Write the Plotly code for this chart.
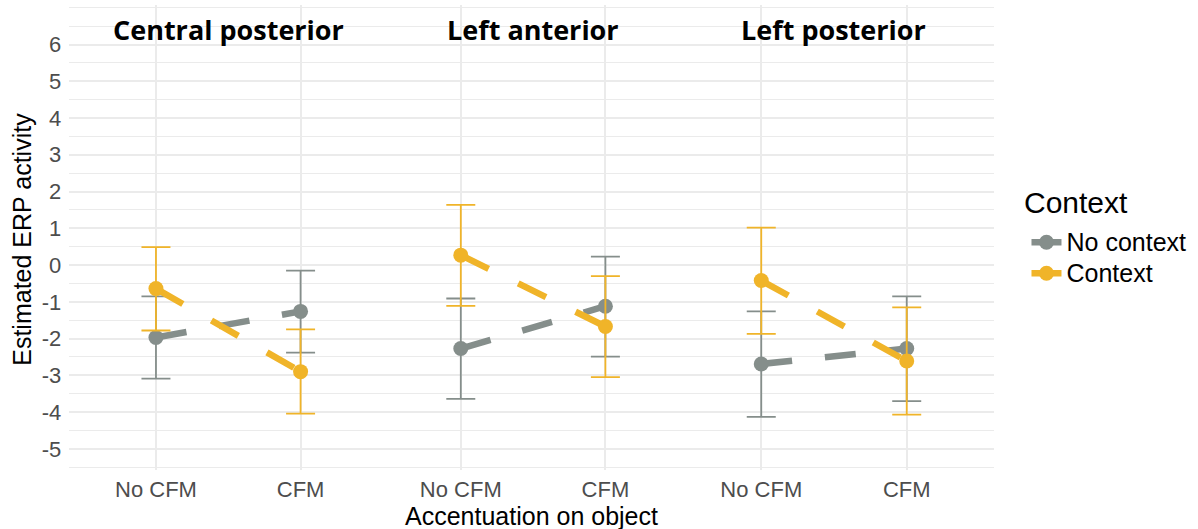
import plotly.graph_objects as go

# Facets, x categories and groups
regions = ["Central posterior", "Left anterior", "Left posterior"]
accentuation = ["No CFM", "CFM"]
groups = ["No context", "Context"]

# Estimated ERP activity per region: [No CFM, CFM]
no_context_est = [[-1.97, -1.26], [-2.27, -1.12], [-2.69, -2.27]]
no_context_lo = [[-3.09, -2.38], [-3.64, -2.49], [-4.13, -3.70]]
no_context_hi = [[-0.85, -0.15], [-0.91, 0.23], [-1.26, -0.85]]

context_est = [[-0.64, -2.90], [0.27, -1.67], [-0.42, -2.61]]
context_lo = [[-1.78, -4.04], [-1.11, -3.05], [-1.87, -4.07]]
context_hi = [[0.49, -1.75], [1.64, -0.30], [1.02, -1.15]]

y_ticks = [-5, -4, -3, -2, -1, 0, 1, 2, 3, 4, 5, 6]
y_tick_labels = ["-5", "-4", "-3", "-2", "-1", "0", "1", "2", "3", "4", "5", "6"]
y_minor = [-5.5, -4.5, -3.5, -2.5, -1.5, -0.5, 0.5, 1.5, 2.5, 3.5, 4.5, 5.5, 6.5, 7]

colors = {"No context": "#858E8B", "Context": "#F0B429"}
series = {
    "No context": (no_context_est, no_context_lo, no_context_hi),
    "Context": (context_est, context_lo, context_hi),
}

W, H = 1198, 529
L_PX, R_PX = 69.0, 994.5
T_PX, B_PX = 5.0, 470.5
# facet panel extents in pixels (panels slightly overlap)
panel_px = [(69.2, 387.5), (374.2, 692.5), (674.3, 994.5)]
span_x = R_PX - L_PX
span_y = B_PX - T_PX


def dom(a, b):
    return [max(0.0, (a - L_PX) / span_x), min(1.0, (b - L_PX) / span_x)]


def px(p):
    # pixel column -> paper x
    return (p - L_PX) / span_x


def py(p):
    # pixel row -> paper y
    return 1 - (p - T_PX) / span_y


SANS = "Liberation Sans, Arial, Helvetica, sans-serif"
grid = "#EBEBEB"
tick_font = dict(family=SANS, size=22, color="#4D4D4D")

fig = go.Figure()

for i, region in enumerate(regions):
    xa = "x" if i == 0 else f"x{i+1}"
    ya = "y" if i == 0 else f"y{i+1}"
    for g in groups:
        est, lo, hi = series[g]
        e, l, h = est[i], lo[i], hi[i]
        fig.add_trace(go.Scatter(
            x=accentuation, y=e, xaxis=xa, yaxis=ya,
            mode="lines+markers",
            name=f'<span style="font-size:25px">{g}</span>',
            legendgroup=g, showlegend=(i == 0),
            line=dict(color=colors[g], width=6.5, dash="31px,33px"),
            marker=dict(color=colors[g], size=15),
            error_y=dict(type="data", symmetric=False,
                         array=[hh - ee for hh, ee in zip(h, e)],
                         arrayminus=[ee - ll for ee, ll in zip(e, l)],
                         color=colors[g], thickness=1.8, width=14.5),
        ))

    xkey = "xaxis" if i == 0 else f"xaxis{i+1}"
    ykey = "yaxis" if i == 0 else f"yaxis{i+1}"
    fig.update_layout({
        xkey: dict(domain=dom(*panel_px[i]), anchor=ya, type="category",
                   categoryorder="array", categoryarray=accentuation,
                   range=[-0.6, 1.6], showgrid=True, gridcolor=grid, gridwidth=2,
                   zeroline=False, showline=False, ticks="",
                   tickfont=tick_font, ticklabelstandoff=4, fixedrange=True),
        ykey: dict(domain=[0, 1], anchor=xa, range=[-5.575, 7.075],
                   tickmode="array", tickvals=y_ticks, ticktext=y_tick_labels,
                   showticklabels=(i == 0), showgrid=True, gridcolor=grid,
                   gridwidth=2, zeroline=False, showline=False, ticks="",
                   tickfont=tick_font, ticklabelstandoff=7,
                   minor=dict(tickmode="array", tickvals=y_minor, showgrid=True,
                              gridcolor=grid, gridwidth=1),
                   fixedrange=True),
    })
    cx = px(sum(panel_px[i]) / 2)
    fig.add_annotation(text=f"<b>{region}</b>", x=cx, y=py(30),
                       xref="paper", yref="paper", xanchor="center", yanchor="middle",
                       showarrow=False,
                       font=dict(family="Open Sans, sans-serif", size=27, color="black"))

# Axis titles
fig.add_annotation(text="Estimated ERP activity", textangle=-90,
                   x=px(22), y=py(240),
                   xref="paper", yref="paper", xanchor="center", yanchor="middle",
                   showarrow=False, font=dict(family=SANS, size=25, color="black"))
fig.add_annotation(text="Accentuation on object", x=px(531.5), y=py(517),
                   xref="paper", yref="paper", xanchor="center", yanchor="middle",
                   showarrow=False, font=dict(family=SANS, size=25, color="black"))

# Legend title
fig.add_annotation(text="Context", x=px(1023), y=py(203),
                   xref="paper", yref="paper", xanchor="left", yanchor="middle",
                   showarrow=False, font=dict(family=SANS, size=30, color="black"))

fig.update_layout(
    width=W, height=H,
    margin=dict(l=L_PX, r=W - R_PX, t=T_PX, b=H - B_PX, pad=0, autoexpand=False),
    paper_bgcolor="white", plot_bgcolor="white",
    legend=dict(font=dict(family=SANS, size=21.5, color="black"),
                x=px(1027), y=py(222),
                xanchor="left", yanchor="top", bgcolor="rgba(0,0,0,0)",
                tracegroupgap=0, itemwidth=30),
    showlegend=True,
)

fig.write_html("out.html")
